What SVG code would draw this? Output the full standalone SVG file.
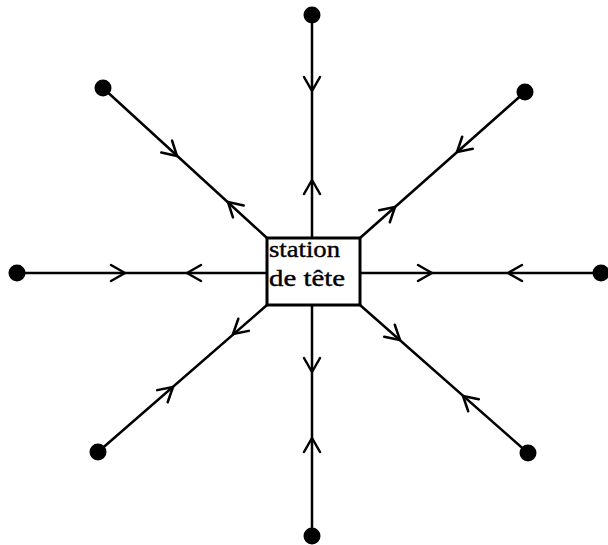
<svg xmlns="http://www.w3.org/2000/svg" xmlns:xlink="http://www.w3.org/1999/xlink" width="608" height="545" viewBox="0 0 608 545">
<style>
.ln{stroke:#000;stroke-width:2.5;fill:none;stroke-linecap:round}
.ah{stroke:#000;stroke-width:2.5;fill:none;stroke-linecap:round;stroke-linejoin:round}
.dot{fill:#000}
.box{fill:#fff;stroke:#000;stroke-width:3}
.lbl{font-family:"Liberation Serif","DejaVu Serif",serif;font-size:24px;fill:#000;stroke:#000;stroke-width:0.4}
</style>
<defs>
<path id="ah" class="ah" d="M-14,-8 L0,0 L-14,8"/>
</defs>
<rect width="608" height="545" fill="#fff"/>
<g id="connectors">
<line class="ln" x1="312" y1="15" x2="312" y2="238"/>
<line class="ln" x1="103" y1="88" x2="267" y2="238"/>
<line class="ln" x1="17" y1="273" x2="267" y2="273"/>
<line class="ln" x1="360" y1="273" x2="602" y2="273"/>
<line class="ln" x1="98" y1="452" x2="267" y2="305"/>
<line class="ln" x1="360" y1="305" x2="528" y2="453"/>
<line class="ln" x1="312" y1="305" x2="312" y2="537"/>
<line class="ln" x1="525" y1="92" x2="360" y2="238"/>
<use xlink:href="#ah" transform="translate(312,91) rotate(90)"/>
<use xlink:href="#ah" transform="translate(312,180) rotate(-90)"/>
<use xlink:href="#ah" transform="translate(177,156) rotate(42.4)"/>
<use xlink:href="#ah" transform="translate(228,202) rotate(222.4)"/>
<use xlink:href="#ah" transform="translate(125,273) rotate(0)"/>
<use xlink:href="#ah" transform="translate(187,273) rotate(180)"/>
<use xlink:href="#ah" transform="translate(432,273) rotate(0)"/>
<use xlink:href="#ah" transform="translate(508,273) rotate(180)"/>
<use xlink:href="#ah" transform="translate(173,387) rotate(-41)"/>
<use xlink:href="#ah" transform="translate(233,334) rotate(139)"/>
<use xlink:href="#ah" transform="translate(400,340) rotate(41.4)"/>
<use xlink:href="#ah" transform="translate(463,396) rotate(221.4)"/>
<use xlink:href="#ah" transform="translate(312,372) rotate(90)"/>
<use xlink:href="#ah" transform="translate(312,438) rotate(-90)"/>
<use xlink:href="#ah" transform="translate(457,152) rotate(138.5)"/>
<use xlink:href="#ah" transform="translate(395,207) rotate(-41.5)"/>
</g>
<g id="station">
<rect class="box" x="267" y="238" width="93" height="67"/>
<text class="lbl" x="269" y="257" textLength="71" lengthAdjust="spacingAndGlyphs">station</text>
<text class="lbl" x="269" y="286" textLength="76" lengthAdjust="spacingAndGlyphs">de tête</text>
</g>
<g id="n-top"><circle class="dot" cx="312" cy="15" r="8.5"/></g>
<g id="n-topleft"><circle class="dot" cx="103" cy="88" r="8.5"/></g>
<g id="n-left"><circle class="dot" cx="17" cy="273" r="8.5"/></g>
<g id="n-right"><circle class="dot" cx="601" cy="273" r="8.5"/></g>
<g id="n-bottomleft"><circle class="dot" cx="98" cy="452" r="8.5"/></g>
<g id="n-bottomright"><circle class="dot" cx="528" cy="453" r="8.5"/></g>
<g id="n-bottom"><circle class="dot" cx="312" cy="536" r="8.5"/></g>
<g id="n-topright"><circle class="dot" cx="525" cy="92" r="8.5"/></g>
</svg>
